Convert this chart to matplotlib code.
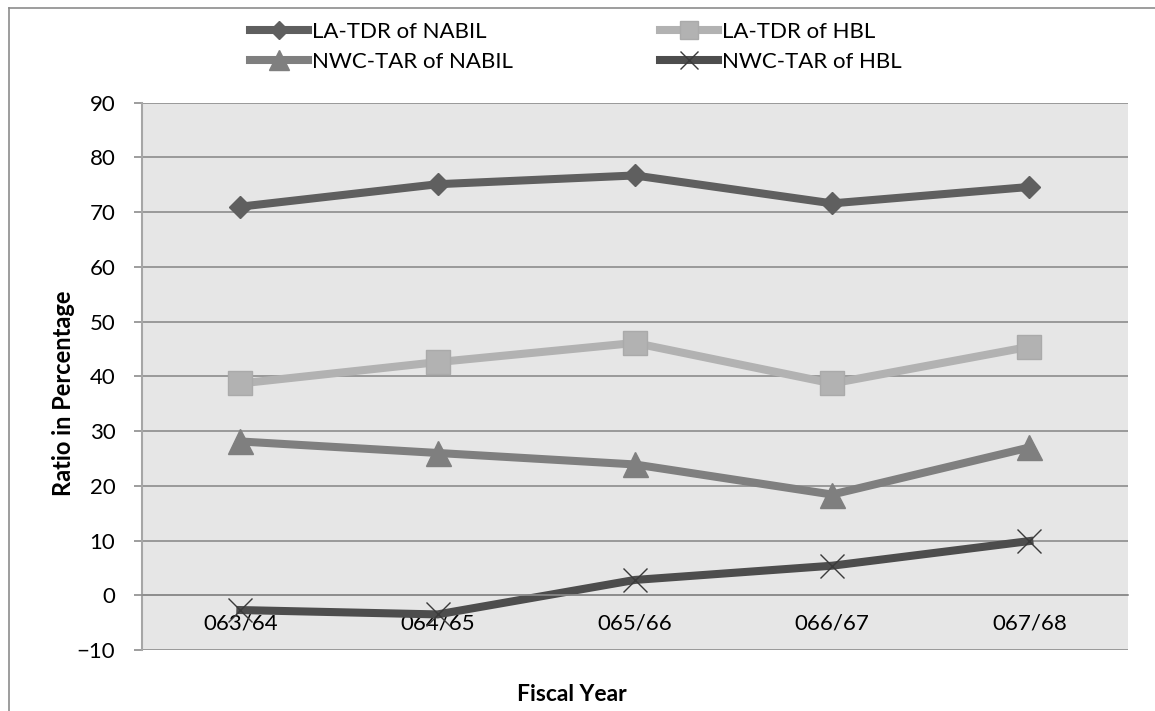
import numpy as np
import matplotlib.pyplot as plt
from matplotlib.lines import Line2D

plt.rcParams['font.family'] = ['Lato', 'DejaVu Sans']

# fiscal years and ratios (%)
years = ["063/64", "064/65", "065/66", "066/67", "067/68"]
la_tdr_nabil = [71.0, 75.1, 76.7, 71.6, 74.6]
la_tdr_hbl = [38.7, 42.6, 46.1, 38.7, 45.4]
nwc_tar_nabil = [28.1, 26.0, 23.9, 18.4, 27.0]
nwc_tar_hbl = [-2.7, -3.5, 2.8, 5.4, 9.9]

x = np.arange(len(years))

fig = plt.figure(figsize=(11.55, 7.11), dpi=100)
ax = fig.add_axes([0.1227, 0.0858, 0.8539, 0.7698])
ax.set_facecolor("#e6e6e6")

lw = 5.8
h1, = ax.plot(x, la_tdr_nabil, color="#5f5f5f", lw=lw, marker="D",
              markersize=11.5, markeredgecolor="#5f5f5f", label="LA-TDR of NABIL")
h2, = ax.plot(x, la_tdr_hbl, color="#b2b2b2", lw=lw, marker="s",
              markersize=17, markeredgecolor="#aaaaaa", label="LA-TDR of HBL")
h3, = ax.plot(x, nwc_tar_nabil, color="#7f7f7f", lw=lw, marker="^",
              markersize=18, markeredgecolor="#7f7f7f", label="NWC-TAR of NABIL")
h4, = ax.plot(x, nwc_tar_hbl, color="#4d4d4d", lw=lw, marker="x",
              markersize=17, markeredgewidth=1.0, markeredgecolor="#3a3a3a",
              label="NWC-TAR of HBL")

ax.set_xlim(-0.5, len(years) - 0.5)
ax.set_ylim(-10, 90)
ax.set_yticks(np.arange(-10, 91, 10))
ax.set_xticks(x)
ax.set_xticklabels(years)

ax.grid(axis="y", color="#8c8c8c", lw=1.2)
ax.set_axisbelow(True)

for side in ["top", "right"]:
    ax.spines[side].set_visible(False)
ax.spines["bottom"].set_position(("data", 0))
ax.spines["bottom"].set_color("#8c8c8c")
ax.spines["bottom"].set_linewidth(1.2)
ax.spines["left"].set_color("#a6a6a6")
ax.spines["left"].set_linewidth(1.5)

ax.tick_params(axis="y", length=6, width=1.2, color="#8c8c8c", pad=13,
               labelsize=16, labelcolor="#000000")
ax.tick_params(axis="x", length=0, pad=13, labelsize=16, labelcolor="#000000")

ax.set_xlabel("Fiscal Year", fontsize=16.5, fontweight="bold")
ax.xaxis.set_label_coords(0.436, -0.062)
ax.set_ylabel("Ratio in Percentage", fontsize=17, fontweight="bold")
ax.yaxis.set_label_coords(-0.068, 0.47)

fig.legend(handles=[h1, h3, h2, h4], ncol=2, loc="upper left",
           bbox_to_anchor=(250 / 1155, 1 - 22 / 711), frameon=False,
           fontsize=16, handlelength=2.6, handletextpad=0.2,
           columnspacing=6.6, labelspacing=0.45, borderpad=0, borderaxespad=0,
           markerscale=0.8)

# outer chart border
fig.add_artist(Line2D([9 / 1155, 9 / 1155], [0, 1 - 8 / 711],
                      transform=fig.transFigure, color="#8c8c8c", lw=1.2))
fig.add_artist(Line2D([9 / 1155, 1], [1 - 8 / 711, 1 - 8 / 711],
                      transform=fig.transFigure, color="#8c8c8c", lw=1.2))

fig.savefig("out.png", dpi=100)
